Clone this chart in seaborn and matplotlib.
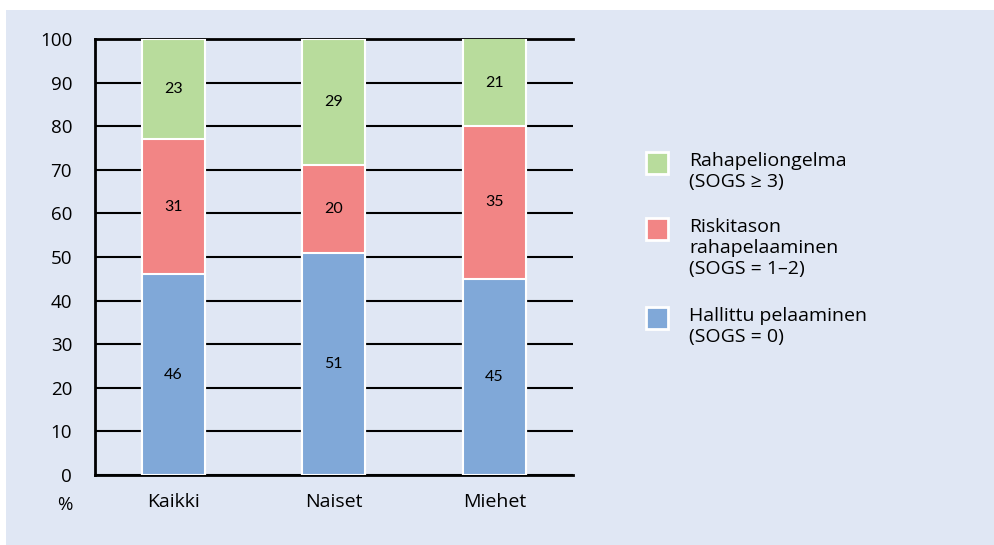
import matplotlib
matplotlib.use("Agg")
import matplotlib.pyplot as plt
from matplotlib.patches import Rectangle
import seaborn as sns
import pandas as pd
import numpy as np

# data (%)
groups = ["Kaikki", "Naiset", "Miehet"]
hallittu = [46, 51, 45]
riski = [31, 20, 35]
ongelma = [23, 29, 21]

legend_labels = [
    "Rahapeliongelma\n(SOGS \u2265 3)",
    "Riskitason\nrahapelaaminen\n(SOGS = 1\u20132)",
    "Hallittu pelaaminen\n(SOGS = 0)",
]

c_green = "#b8dc9c"
c_red = "#f28585"
c_blue = "#80a8d8"
panel_bg = "#e0e7f4"

sns.set_theme(style="white")
plt.rcParams["font.family"] = ["Open Sans", "DejaVu Sans"]
plt.rcParams["text.color"] = "black"
plt.rcParams["xtick.color"] = "black"
plt.rcParams["ytick.color"] = "black"

df = pd.DataFrame({"group": groups, "h": hallittu, "r": riski, "o": ongelma})
df["hr"] = df["h"] + df["r"]
df["hro"] = df["hr"] + df["o"]

fig = plt.figure(figsize=(9.95, 5.45), dpi=100)
fig.patch.set_facecolor("white")
# light blue panel behind everything
fig.add_artist(Rectangle((6 / 995, 0), 989 / 995, 535 / 545,
                         transform=fig.transFigure, facecolor=panel_bg,
                         edgecolor="none", zorder=-5))

ax = fig.add_axes([95 / 995, 70 / 545, 478 / 995, 436 / 545])
ax.set_facecolor(panel_bg)
ax.set_axisbelow(True)

# stacked bars: draw cumulative totals, largest first
bar_w = 0.39
common = dict(x="group", order=groups, width=bar_w, edgecolor="white",
              linewidth=1.5, ax=ax, zorder=3)
sns.barplot(data=df, y="hro", color=c_green, saturation=1, **common)
sns.barplot(data=df, y="hr", color=c_red, saturation=1, **common)
sns.barplot(data=df, y="h", color=c_blue, saturation=1, **common)

# segment labels
for i in range(len(groups)):
    segs = [(0, hallittu[i]), (hallittu[i], riski[i]),
            (hallittu[i] + riski[i], ongelma[i])]
    for base, val in segs:
        top = min(base + val, 100)
        ax.text(i, (base + top) / 2, str(val), ha="center", va="center",
                fontsize=11.5, family=["Lato", "DejaVu Sans"], color="black",
                zorder=5)

ax.set_ylim(0, 100)
ax.set_xlim(-0.4875, 2.49)
ax.set_yticks(np.arange(0, 101, 10))
ax.yaxis.grid(True, color="black", linewidth=1.5)
ax.xaxis.grid(False)
ax.tick_params(axis="y", length=0, labelsize=13.5, pad=16.5)
ax.tick_params(axis="x", length=0, labelsize=14, pad=13)
ax.set_xlabel("")
ax.set_ylabel("")
for s in ["left", "bottom", "top"]:
    ax.spines[s].set_visible(True)
    ax.spines[s].set_color("black")
    ax.spines[s].set_linewidth(2)
ax.spines["right"].set_visible(False)

fig.text(65 / 995, 1 - 505 / 545, "%", ha="center", va="center", fontsize=13.5)

# legend drawn by hand so the patch sits on the first text line
leg_colors = [c_green, c_red, c_blue]
leg_top = [151, 217, 306]
for col, lab, y in zip(leg_colors, legend_labels, leg_top):
    fig.add_artist(Rectangle((646 / 995, 1 - (y + 23) / 545), 22 / 995, 22 / 545,
                             transform=fig.transFigure, facecolor=col,
                             edgecolor="white", linewidth=2, zorder=2))
    fig.text(689 / 995, 1 - (y + 1) / 545, lab, ha="left", va="top",
             fontsize=14, linespacing=1.2)

fig.savefig("out.png", dpi=100, facecolor="white")
